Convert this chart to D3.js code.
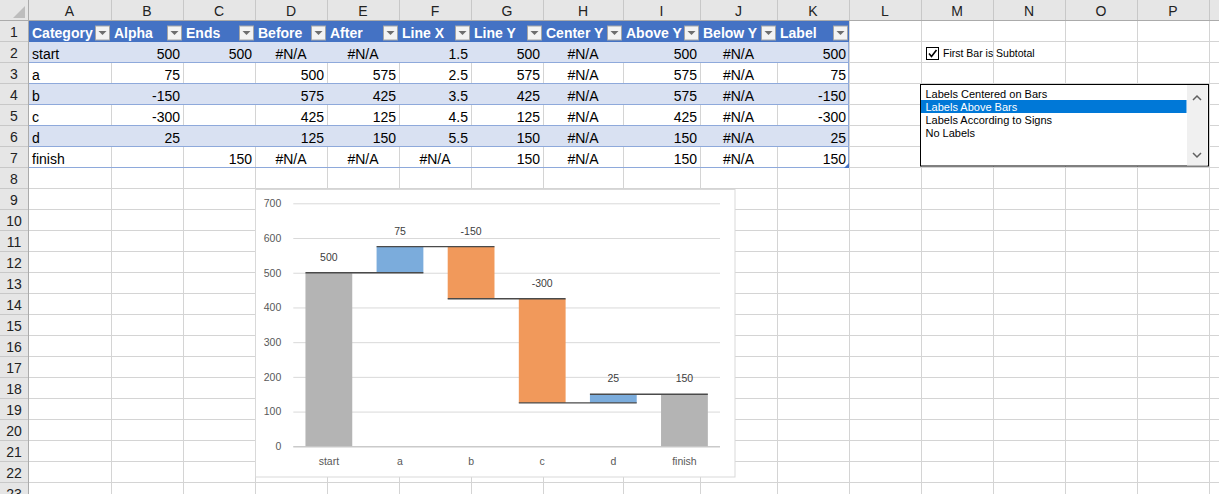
<!DOCTYPE html>
<html>
<head>
<meta charset="utf-8">
<script src="https://cdn.jsdelivr.net/npm/d3@7"></script>
<style>
  html, body { margin: 0; padding: 0; background: #fff; overflow: hidden; }
  svg { display: block; }
  text { font-family: "Liberation Sans", Arial, sans-serif; }
</style>
</head>
<body>
<svg id="sheet" width="1219" height="494"></svg>
<script>
// ---------------- DATA ----------------
const NA = "#N/A";
const columnLetters = ["A","B","C","D","E","F","G","H","I","J","K","L","M","N","O","P"];
const rowNumbers = [1,2,3,4,5,6,7,8,9,10,11,12,13,14,15,16,17,18,19,20,21,22,23];
const headers = ["Category","Alpha","Ends","Before","After","Line X","Line Y","Center Y","Above Y","Below Y","Label"];
const category = ["start","a","b","c","d","finish"];
const alpha   = [500, 75, -150, -300, 25, null];
const ends    = [500, null, null, null, null, 150];
const before  = [NA, 500, 575, 425, 125, NA];
const after   = [NA, 575, 425, 125, 150, NA];
const lineX   = [1.5, 2.5, 3.5, 4.5, 5.5, NA];
const lineY   = [500, 575, 425, 125, 150, 150];
const centerY = [NA, NA, NA, NA, NA, NA];
const aboveY  = [500, 575, 575, 425, 150, 150];
const belowY  = [NA, NA, NA, NA, NA, NA];
const label   = [500, 75, -150, -300, 25, 150];
const yTicks  = [0, 100, 200, 300, 400, 500, 600, 700];
const checkboxText = "First Bar is Subtotal";
const listItems = ["Labels Centered on Bars","Labels Above Bars","Labels According to Signs","No Labels"];
const selectedItem = 1;

// ---------------- LAYOUT ----------------
const W = 1219, H = 494;
const colEdges = [28,111,183,255,327,399,471,543,623,700,777,849,921,993,1065,1137,1209];
const headerH = 21, rowH = 21;
const rowTop = r => headerH + (r - 1) * rowH;

const svg = d3.select("#sheet");
svg.append("rect").attr("width", W).attr("height", H).attr("fill", "#fff");

// gridlines
const grid = svg.append("g").attr("stroke", "#D4D4D4").attr("stroke-width", 1);
colEdges.slice(1).forEach(x => grid.append("line").attr("x1", x + 0.5).attr("x2", x + 0.5).attr("y1", headerH).attr("y2", H));
rowNumbers.forEach(r => grid.append("line").attr("x1", 29).attr("x2", W).attr("y1", rowTop(r) + rowH - 0.5).attr("y2", rowTop(r) + rowH - 0.5));

// ---------------- TABLE ----------------
const tbl = svg.append("g");
const tableLeft = colEdges[0] + 1, tableRight = colEdges[11];
const tableCols = [category, alpha, ends, before, after, lineX, lineY, centerY, aboveY, belowY, label];

tbl.append("rect").attr("x", tableLeft).attr("y", rowTop(1)).attr("width", tableRight - tableLeft).attr("height", rowH).attr("fill", "#4472C4");
category.forEach((c, i) => {
  const r = i + 2;
  if (i % 2 === 0) {
    tbl.append("rect").attr("x", tableLeft).attr("y", rowTop(r)).attr("width", tableRight - tableLeft).attr("height", rowH).attr("fill", "#D9E1F2");
  }
});
category.forEach((c, i) => {
  const r = i + 2;
  tbl.append("line").attr("x1", tableLeft).attr("x2", tableRight).attr("y1", rowTop(r) + rowH - 0.5).attr("y2", rowTop(r) + rowH - 0.5)
     .attr("stroke", "#8EA9DB").attr("stroke-width", 1);
});
tbl.append("line").attr("x1", tableRight - 0.5).attr("x2", tableRight - 0.5).attr("y1", rowTop(2)).attr("y2", rowTop(8))
   .attr("stroke", "#8EA9DB");

headers.forEach((h, j) => {
  const x0 = colEdges[j] + (j === 0 ? 1 : 0), x1 = colEdges[j + 1];
  tbl.append("text").attr("x", x0 + 3).attr("y", rowTop(1) + 16.5).attr("fill", "#fff")
     .attr("font-weight", "bold").attr("font-size", "14px").text(h);
  const bx = x1 - 16, by = rowTop(1) + 4.5;
  tbl.append("rect").attr("x", bx + 0.5).attr("y", by + 0.5).attr("width", 14).attr("height", 14)
     .attr("fill", "#F3F3F3").attr("stroke", "#A6A6A6");
  const cx = bx + 7.5, cy = by + 7.5;
  tbl.append("path").attr("d", `M${cx - 4},${cy - 2}L${cx + 4},${cy - 2}L${cx},${cy + 2}Z`).attr("fill", "#6E6E6E");
});

tableCols.forEach((col, j) => {
  const x0 = colEdges[j], x1 = colEdges[j + 1];
  col.forEach((v, i) => {
    if (v === null || v === undefined) return;
    const r = i + 2;
    const t = tbl.append("text").attr("y", rowTop(r) + 17).attr("font-size", "14px").attr("fill", "#000");
    if (v === NA) {
      t.attr("x", (x0 + x1) / 2).attr("text-anchor", "middle").text(v);
    } else if (typeof v === "number") {
      t.attr("x", x1 - 3).attr("text-anchor", "end").text(v);
    } else {
      t.attr("x", x0 + 4).text(v);
    }
  });
});
tbl.append("path").attr("d", `M${tableRight - 5},${rowTop(8)}L${tableRight},${rowTop(8)}L${tableRight},${rowTop(8) - 5}Z`).attr("fill", "#4472C4");

// ---------------- SHEET HEADERS ----------------
const hdr = svg.append("g");
hdr.append("rect").attr("x", 0).attr("y", 0).attr("width", W).attr("height", headerH).attr("fill", "#E6E6E6");
hdr.append("rect").attr("x", 0).attr("y", 0).attr("width", 28).attr("height", H).attr("fill", "#E6E6E6");
colEdges.slice(1).forEach(x => hdr.append("line").attr("x1", x + 0.5).attr("x2", x + 0.5).attr("y1", 0).attr("y2", headerH).attr("stroke", "#C8C8C8"));
rowNumbers.forEach(r => hdr.append("line").attr("x1", 0).attr("x2", 28).attr("y1", rowTop(r) + rowH - 0.5).attr("y2", rowTop(r) + rowH - 0.5).attr("stroke", "#C8C8C8"));
hdr.append("line").attr("x1", 0).attr("x2", W).attr("y1", headerH - 0.5).attr("y2", headerH - 0.5).attr("stroke", "#ABABAB");
hdr.append("line").attr("x1", 28.5).attr("x2", 28.5).attr("y1", 0).attr("y2", H).attr("stroke", "#ABABAB");
hdr.append("path").attr("d", "M13,18L25,18L25,6Z").attr("fill", "#BDBDBD");
columnLetters.forEach((c, j) => {
  hdr.append("text").attr("x", (colEdges[j] + colEdges[j + 1]) / 2).attr("y", 16).attr("text-anchor", "middle")
     .attr("font-size", "14px").attr("fill", "#222").text(c);
});
rowNumbers.forEach(r => {
  hdr.append("text").attr("x", 14).attr("y", rowTop(r) + 16).attr("text-anchor", "middle")
     .attr("font-size", "14px").attr("fill", "#222").text(r);
});

// ---------------- CHART ----------------
const chart = svg.append("g");
chart.append("rect").attr("x", 255.5).attr("y", 189.5).attr("width", 479.5).attr("height", 287.5)
     .attr("fill", "#fff").attr("stroke", "#D9D9D9");

const plot = { left: 293.3, right: 720, top: 203.3, bottom: 446.3 };
const x = d3.scaleBand().domain(category).range([plot.left, plot.right]).paddingInner(0.342).paddingOuter(0.171);
const bw = x.bandwidth();
const xIdx = k => x(category[0]) + bw / 2 + (k - 1) * x.step();
const y = d3.scaleLinear().domain([0, 700]).range([plot.bottom, plot.top]);

chart.append("g").attr("transform", `translate(${plot.left},0)`)
  .call(d3.axisLeft(y).tickValues(yTicks).tickSize(-(plot.right - plot.left)).tickFormat(""))
  .call(g => g.select(".domain").remove())
  .call(g => g.selectAll(".tick line").attr("stroke", "#D9D9D9"));

chart.append("g").attr("transform", `translate(${plot.left},0)`)
  .call(d3.axisLeft(y).tickValues(yTicks).tickSize(0).tickPadding(12))
  .call(g => g.select(".domain").remove())
  .call(g => g.selectAll("text").attr("fill", "#595959").attr("font-size", "10.5px").attr("font-family", "Liberation Sans, Arial, sans-serif"));

chart.append("g").selectAll("rect").data(category.map((c, i) => ({ c, v: ends[i] })).filter(d => d.v !== null))
  .join("rect").attr("x", d => x(d.c)).attr("width", bw)
  .attr("y", d => y(d.v)).attr("height", d => y(0) - y(d.v)).attr("fill", "#B4B4B4");

const floats = category.map((c, i) => ({ c, b: before[i], a: after[i] })).filter(d => typeof d.b === "number");
chart.append("g").selectAll("rect").data(floats)
  .join("rect").attr("x", d => x(d.c)).attr("width", bw)
  .attr("y", d => y(Math.max(d.a, d.b))).attr("height", d => Math.abs(y(d.a) - y(d.b)))
  .attr("fill", d => d.a > d.b ? "#7BACDC" : "#F1995B");

chart.append("g").attr("transform", `translate(0,${plot.bottom})`)
  .call(d3.axisBottom(x).tickSize(0).tickPadding(11))
  .call(g => g.select(".domain").attr("stroke", "#BFBFBF").attr("d", `M${plot.left},0.5H${plot.right}`))
  .call(g => g.selectAll("text").attr("fill", "#595959").attr("font-size", "10.5px").attr("font-family", "Liberation Sans, Arial, sans-serif"));

const conns = lineX.map((lx, i) => ({ lx, ly: lineY[i] })).filter(d => typeof d.lx === "number");
chart.append("g").selectAll("line").data(conns)
  .join("line")
  .attr("x1", d => xIdx(d.lx - 0.5) - bw / 2).attr("x2", d => xIdx(d.lx + 0.5) + bw / 2)
  .attr("y1", d => y(d.ly)).attr("y2", d => y(d.ly))
  .attr("stroke", "#4A4A4A").attr("stroke-width", 1.3);

chart.append("g").selectAll("text").data(category.map((c, i) => ({ i, ay: aboveY[i], t: label[i] })))
  .join("text").attr("x", d => xIdx(d.i + 1)).attr("y", d => y(d.ay) - 12)
  .attr("text-anchor", "middle").attr("font-size", "10.5px").attr("fill", "#404040").text(d => d.t);

// ---------------- CONTROLS ----------------
const ctl = svg.append("g");
ctl.append("rect").attr("x", 926.5).attr("y", 47.5).attr("width", 12).attr("height", 12).attr("fill", "#fff").attr("stroke", "#000");
ctl.append("path").attr("d", "M929,53.5L931.5,56.5L936.5,50").attr("fill", "none").attr("stroke", "#000").attr("stroke-width", 1.6);
ctl.append("text").attr("x", 943).attr("y", 57).attr("font-size", "10.5px").attr("fill", "#000").text(checkboxText);

const lb = { x: 920.5, y: 84.5, w: 288, h: 81.5 };
ctl.append("rect").attr("x", lb.x).attr("y", lb.y).attr("width", lb.w).attr("height", lb.h).attr("fill", "#fff").attr("stroke", "#000");
ctl.append("rect").attr("x", 1187).attr("y", 85).attr("width", 20.5).attr("height", 80.5).attr("fill", "#F0F0F0");
ctl.append("path").attr("d", "M1193,100L1197,96L1201,100").attr("fill", "none").attr("stroke", "#606060").attr("stroke-width", 1.5);
ctl.append("path").attr("d", "M1193,153L1197,157L1201,153").attr("fill", "none").attr("stroke", "#606060").attr("stroke-width", 1.5);
listItems.forEach((t, i) => {
  const iy = 87 + i * 13;
  if (i === selectedItem) {
    ctl.append("rect").attr("x", 921).attr("y", iy).attr("width", 265.5).attr("height", 13).attr("fill", "#0078D7");
  }
  ctl.append("text").attr("x", 925.5).attr("y", iy + 10.5).attr("font-size", "11px")
     .attr("fill", i === selectedItem ? "#fff" : "#000").text(t);
});
</script>
</body>
</html>
